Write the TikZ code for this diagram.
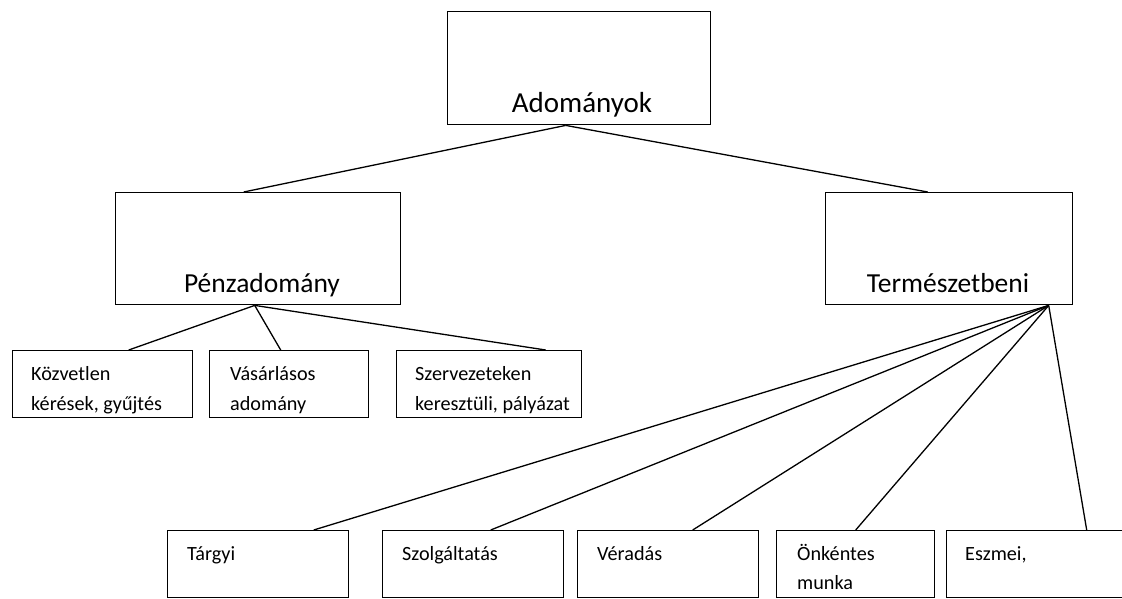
\documentclass[tikz,border=0pt]{standalone}
\usepackage{fontspec}
\setmainfont{Carlito}
\begin{document}
\begin{tikzpicture}[x=1pt,y=-1pt,
  box/.style={draw=black,line width=1.4pt,inner sep=0pt,anchor=north west},
  conn/.style={draw=black,line width=1.3pt},
  big/.style={inner sep=0pt,anchor=base,font=\fontsize{27.5}{33}\selectfont},
  small/.style={inner sep=0pt,anchor=base west,font=\fontsize{20.2}{24}\selectfont}]
\clip (0,0) rectangle (1122,598);
\useasboundingbox (0,0) rectangle (1122,598);
% boxes
\node[box,minimum width=263pt,minimum height=113pt] (root) at (447,11) {};
\node[box,minimum width=285pt,minimum height=112pt] (penz) at (115,192) {};
\node[box,minimum width=247pt,minimum height=112pt] (term) at (825,192) {};
\node[box,minimum width=180pt,minimum height=67pt] (k1) at (12,350) {};
\node[box,minimum width=159pt,minimum height=67pt] (k2) at (209,350) {};
\node[box,minimum width=185pt,minimum height=67pt] (k3) at (396,350) {};
\node[box,minimum width=181pt,minimum height=67pt] (b1) at (167,530) {};
\node[box,minimum width=181pt,minimum height=67pt] (b2) at (382,530) {};
\node[box,minimum width=181pt,minimum height=67pt] (b3) at (577,530) {};
\node[box,minimum width=158pt,minimum height=67pt] (b4) at (776,530) {};
\node[box,minimum width=184pt,minimum height=67pt] (b5) at (946,530) {};
% texts
\node[big,font=\fontsize{29}{34}\selectfont] (troot) at (582,112) {Adományok};
\node[big] (tpenz) at (262,292) {Pénzadomány};
\node[big] (tterm) at (948,292) {Természetbeni};
\begin{scope}
\clip (12,350) rectangle (192,414);
\node[small] (tk1a) at (31,380) {Közvetlen};
\node[small] (tk1b) at (31,410) {kérések, gyűjtés};
\end{scope}
\begin{scope}
\clip (209,350) rectangle (368,414);
\node[small] (tk2a) at (230,380) {Vásárlásos};
\node[small] (tk2b) at (230,410) {adomány};
\end{scope}
\begin{scope}
\clip (396,350) rectangle (581,414);
\node[small] (tk3a) at (415,380) {Szervezeteken};
\node[small] (tk3b) at (415,410) {keresztüli, pályázat};
\end{scope}
\node[small] (tb1) at (187,560) {Tárgyi};
\node[small] (tb2) at (402,560) {Szolgáltatás};
\node[small] (tb3) at (597,560) {Véradás};
\node[small] (tb4a) at (797,560) {Önkéntes};
\node[small] (tb4b) at (797,589) {munka};
\node[small] (tb5) at (965,560) {Eszmei,};
% connectors
\draw[conn] ([xshift=-13.5pt]root.south) -- ([xshift=-14.5pt]penz.north);
\draw[conn] ([xshift=-13.5pt]root.south) -- ([xshift=-21.5pt]term.north);
\draw[conn] ([xshift=-3.5pt]penz.south) -- ([xshift=26pt]k1.north);
\draw[conn] ([xshift=-3.5pt]penz.south) -- ([xshift=-8.5pt]k2.north);
\draw[conn] ([xshift=-3.5pt]penz.south) -- ([xshift=56.5pt]k3.north);
\draw[conn] ([xshift=99.5pt]term.south) -- ([xshift=55.5pt]b1.north);
\draw[conn] ([xshift=99.5pt]term.south) -- ([xshift=17.5pt]b2.north);
\draw[conn] ([xshift=99.5pt]term.south) -- ([xshift=24.5pt]b3.north);
\draw[conn] ([xshift=99.5pt]term.south) -- (b4.north);
\draw[conn] ([xshift=99.5pt]term.south) -- ([xshift=48pt]b5.north);
\end{tikzpicture}
\end{document}
